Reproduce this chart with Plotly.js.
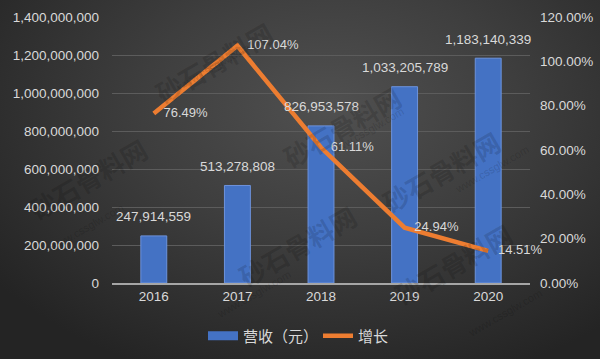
<!DOCTYPE html>
<html>
<head>
<meta charset="utf-8">
<script src="https://cdn.plot.ly/plotly-3.0.1.min.js"></script>
<style>
html,body{margin:0;padding:0;}
#chart{width:600px;height:359px;background:radial-gradient(ellipse 70% 80% at 55% 30%, #505050 0%, #3e3e3e 45%, #242424 100%);}
</style>
</head>
<body>
<div id="chart"></div>
<script>
var years = ['2016', '2017', '2018', '2019', '2020'];
var revenue = [247914559, 513278808, 826953578, 1033205789, 1183140339];
var growth = [0.7649, 1.0704, 0.6111, 0.2494, 0.1451];
var revenueName = '营收（元）';
var growthName = '增长';
var watermarkText = '砂石骨料网';
var watermarkUrl = 'www.cssglw.com';

var txtColor = '#d9d9d9';
var fontFam = 'Liberation Sans, Arial, sans-serif';
var barColor = '#4472c4';

var barTrace = {
  type: 'bar', x: years, y: revenue, name: revenueName, showlegend: false,
  marker: {color: barColor, line: {color: '#6d93dc', width: 1}},
  hoverinfo: 'skip'
};
// legend-only entry to get a wide rectangular swatch for the bars
var barLegend = {
  type: 'scatter', mode: 'lines', x: [null], y: [null], name: revenueName,
  line: {color: barColor, width: 9}, hoverinfo: 'skip'
};
var lineTrace = {
  type: 'scatter', mode: 'lines+markers+text', x: years, y: growth, yaxis: 'y2', name: growthName,
  line: {color: '#ed7d31', width: 4.5},
  marker: {size: 14, color: 'rgba(0,0,0,0)'},
  text: growth.map(function(g){ return (g*100).toFixed(2) + '%'; }),
  textposition: 'middle right',
  textfont: {color: txtColor, size: 13, family: fontFam},
  cliponaxis: false,
  hoverinfo: 'skip'
};

var annotations = revenue.map(function(v, i){
  return {x: i, y: v, xref: 'x', yref: 'y', text: v.toLocaleString('en-US'),
    showarrow: false, yshift: 19, font: {color: txtColor, size: 13.5, family: fontFam}};
});

// faint watermarks
var wm = [[0.08, 1.02], [0.55, 0.78], [0.28, -0.05], [0.95, 0.42], [0.98, -0.12], [-0.22, 0.2]];
wm.forEach(function(p){
  annotations.push({x: p[0], y: p[1], xref: 'paper', yref: 'paper', text: '<b>' + watermarkText + '</b>',
    showarrow: false, textangle: -30, font: {size: 26, color: 'rgba(0,0,0,0.14)', family: 'Noto Sans CJK SC'}});
  annotations.push({x: p[0] + 0.06, y: p[1] - 0.1, xref: 'paper', yref: 'paper', text: watermarkUrl,
    showarrow: false, textangle: -30, font: {size: 11, color: 'rgba(0,0,0,0.14)', family: fontFam}});
});

var layout = {
  width: 600, height: 359,
  margin: {l: 112, r: 70, t: 17, b: 76},
  paper_bgcolor: 'rgba(0,0,0,0)', plot_bgcolor: 'rgba(0,0,0,0)',
  font: {family: fontFam, color: txtColor, size: 13.5},
  bargap: 0.69,
  showlegend: true,
  legend: {orientation: 'h', xref: 'container', yref: 'container', x: 0.53, xanchor: 'center', y: 0.064, yanchor: 'middle',
    font: {size: 15, color: txtColor, family: 'Noto Sans CJK SC, ' + fontFam}, traceorder: 'normal',
    entrywidth: 70, itemwidth: 30},
  xaxis: {type: 'category', range: [-0.5, 4.5], tickfont: {size: 13.5, color: txtColor}, showgrid: false, ticks: '',
    showline: true, linecolor: '#a6a6a6', linewidth: 1.5, zeroline: false},
  yaxis: {range: [0, 1.4e9], dtick: 2e8, tickformat: ',d', showgrid: true, gridcolor: '#5c5c5c', gridwidth: 1,
    zeroline: false, showline: false, ticks: '', ticklabelstandoff: 12, tickfont: {size: 13.5, color: txtColor}},
  yaxis2: {range: [0, 1.2], dtick: 0.2, tickformat: '.2%', overlaying: 'y', side: 'right', showgrid: false,
    zeroline: false, showline: false, ticks: '', ticklabelstandoff: 9, tickfont: {size: 13.5, color: txtColor}},
  annotations: annotations
};

Plotly.newPlot('chart', [barTrace, barLegend, lineTrace], layout, {displayModeBar: false, staticPlot: true});
</script>
</body>
</html>
